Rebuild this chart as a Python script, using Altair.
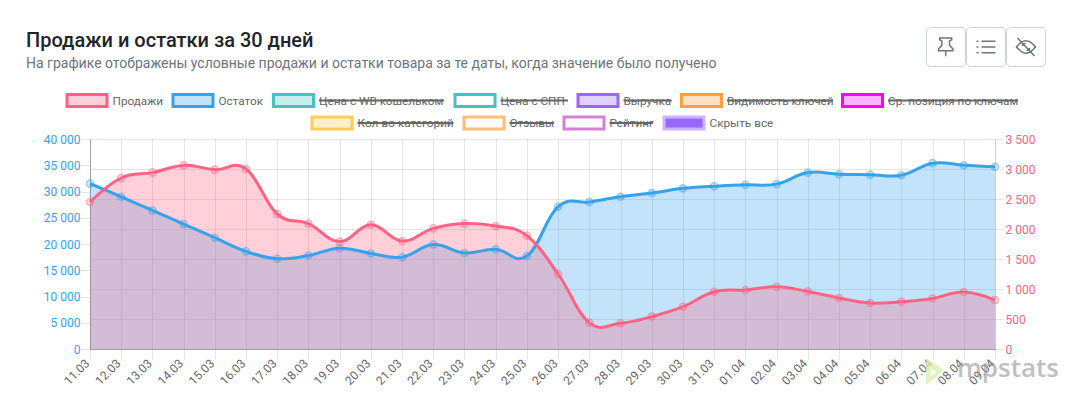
import altair as alt
import pandas as pd

dates = ["11.03","12.03","13.03","14.03","15.03","16.03","17.03","18.03","19.03","20.03",
         "21.03","22.03","23.03","24.03","25.03","26.03","27.03","28.03","29.03","30.03",
         "31.03","01.04","02.04","03.04","04.04","05.04","06.04","07.04","08.04","09.04"]
stock = [31500,29000,26400,23800,21200,18600,17200,17800,19200,18200,
         17500,19900,18300,19000,17700,27100,28000,29000,29700,30600,
         31000,31300,31400,33600,33300,33200,33100,35400,35000,34700]
sales = [2450,2850,2940,3060,2990,3000,2250,2090,1790,2070,
         1800,2010,2090,2050,1890,1250,440,430,540,705,
         955,983,1038,960,850,766,788,843,950,816]

legend_names = ["Продажи","Остаток","Цена с WB кошельком","Цена с СПП","Выручка","Видимость ключей",
                "Ср. позиция по ключам","Кол-во категорий","Отзывы","Рейтинг","Скрыть все"]
legend_stroke = ["#ff6384","#36a2eb","#4bc0c0","#4bc0c0","#9966ff","#ff9f40","#ff00ff",
                 "#ffcd56","#ffbd7a","#d67fd6","#ccb3ff"]
legend_fill = ["rgba(255,99,132,0.3)","rgba(54,162,235,0.3)","rgba(75,192,192,0.3)","#ffffff",
               "rgba(153,102,255,0.3)","rgba(255,159,64,0.3)","rgba(255,0,255,0.3)",
               "rgba(255,205,86,0.3)","#ffffff","#ffffff","#9966ff"]
legend_struck = [False,False,True,True,True,True,True,True,True,True,False]

OX, OY = 90, 139   # plot origin on the page
PW, PH = 905, 210

legend_left = [65.5,171.5,272,453.5,576.5,680,841,310.5,462.5,562.5,662.5]
legend_end = [162,263,444,568,671.7,832.8,1018,453.5,554,653,773]
legend_row = [100.5]*7 + [123]*4

df = pd.DataFrame({"date": dates, "stock": stock, "sales": sales})
leg = pd.DataFrame({
    "name": legend_names, "stroke": legend_stroke, "fill": legend_fill, "struck": legend_struck,
    "x0": [v + 1.5 - OX for v in legend_left],
    "x1": [v + 41.5 - OX for v in legend_left],
    "y0": [v - 6 - OY for v in legend_row],
    "y1": [v + 6 - OY for v in legend_row],
    "yc": [v - OY for v in legend_row],
    "tx": [v + 47 - OX for v in legend_left],
    "te": [v - OX for v in legend_end],
})

FONT = "Roboto"
num_expr = "replace(format(datum.value, ','), /,/g, ' ')"
x_enc = alt.X("date:N", sort=dates,
              scale=alt.Scale(type="point", padding=0),
              axis=alt.Axis(title=None, grid=True, gridColor="rgba(0,0,0,0.1)", labelAngle=-45,
                            labelAlign="right", labelBaseline="middle", labelPadding=2, labelOffset=-3,
                            labelFont=FONT, labelFontSize=12, labelColor="#666666",
                            tickColor="rgba(0,0,0,0.1)", tickSize=10,
                            domainColor="rgba(0,0,0,0.3)", labelOverlap=False))
LEFT_SCALE = alt.Scale(domain=[0, 40000], nice=False)
RIGHT_SCALE = alt.Scale(domain=[0, 3500], nice=False)
y_left = alt.Y("stock:Q", scale=LEFT_SCALE,
               axis=alt.Axis(title=None, orient="left", grid=False, values=list(range(0, 40001, 5000)),
                             labelExpr=num_expr, labelFont=FONT, labelFontSize=12, labelColor="#36a2eb",
                             tickColor="rgba(0,0,0,0.1)", tickSize=10, labelPadding=0,
                             domainColor="rgba(0,0,0,0.3)"))
y_right = alt.Y("sales:Q", scale=RIGHT_SCALE,
                axis=alt.Axis(title=None, orient="right", grid=True, gridColor="rgba(0,0,0,0.1)",
                              values=list(range(0, 3501, 500)),
                              labelExpr=num_expr, labelFont=FONT, labelFontSize=12, labelColor="#ff6384",
                              tickColor="rgba(0,0,0,0.1)", tickSize=8, labelPadding=2,
                              domainColor="rgba(0,0,0,0.1)"))
y_left_plain = alt.Y("stock:Q", scale=LEFT_SCALE, axis=None)
y_right_plain = alt.Y("sales:Q", scale=RIGHT_SCALE, axis=None)

curve = dict(interpolate="cardinal", tension=-0.2)

base = alt.Chart(df)
series = [
    base.mark_area(color="#36a2eb", opacity=0.3, **curve).encode(x=x_enc, y=y_left),
    base.mark_area(color="#ff6384", opacity=0.3, **curve).encode(x=x_enc, y=y_right),
    base.mark_line(color="#36a2eb", strokeWidth=3, **curve).encode(x=x_enc, y=y_left_plain),
    base.mark_point(filled=False, fill="rgba(54,162,235,0.3)", stroke="rgba(54,162,235,0.7)", size=50, strokeWidth=1.5).encode(x=x_enc, y=y_left_plain),
    base.mark_line(color="#ff6384", strokeWidth=3, **curve).encode(x=x_enc, y=y_right_plain),
    base.mark_point(filled=False, fill="rgba(255,99,132,0.3)", stroke="rgba(255,99,132,0.7)", size=50, strokeWidth=1.5).encode(x=x_enc, y=y_right_plain),
]

def px(field):
    return alt.X(field, scale=None, axis=None)
def py(field):
    return alt.Y(field, scale=None, axis=None)

lb = alt.Chart(leg)
legend_layers = [
    lb.mark_rect(strokeWidth=3).encode(
        x=px("x0:Q"), x2=alt.X2("x1:Q"), y=py("y0:Q"), y2=alt.Y2("y1:Q"),
        fill=alt.Fill("fill:N", scale=None), stroke=alt.Stroke("stroke:N", scale=None)),
    lb.mark_text(align="left", baseline="middle", font=FONT, fontSize=11.75, color="#666666").encode(
        x=px("tx:Q"), y=py("yc:Q"), text="name:N"),
    lb.transform_filter("datum.struck").mark_rule(color="#666666", strokeWidth=2).encode(
        x=px("tx:Q"), x2=alt.X2("te:Q"), y=py("yc:Q")),
]

def label(text, x, y, **kw):
    return alt.Chart(pd.DataFrame({"t": [text]})).mark_text(align="left", baseline="middle", **kw).encode(
        x=alt.value(x - OX), y=alt.value(y - OY), text="t:N")

def box(x0, x1, y0, y1, **kw):
    return alt.Chart(pd.DataFrame({"a": [0]})).mark_rect(**kw).encode(
        x=alt.value(x0 - OX), x2=alt.value(x1 - OX), y=alt.value(y0 - OY), y2=alt.value(y1 - OY))

def icon(path, x, y, size, **kw):
    return alt.Chart(pd.DataFrame({"a": [0]})).mark_point(shape=path, size=size, **kw).encode(
        x=alt.value(x - OX), y=alt.value(y - OY))

PIN = "M-.6 -.9 L.6 -.9 L.6 -.72 L.38 -.6 L.38 -.2 L.72 .2 L.72 .38 L-.72 .38 L-.72 .2 L-.38 -.2 L-.38 -.6 L-.6 -.72 Z M0 .38 L0 .92"
LIST = "M-.45 -.57 L.95 -.57 M-.45 0 L.95 0 M-.45 .57 L.95 .57 M-.95 -.57 L-.75 -.57 M-.95 0 L-.75 0 M-.95 .57 L-.75 .57"
EYE = "M-.95 0 Q-.45 -.62 0 -.62 Q.45 -.62 .95 0 Q.45 .62 0 .62 Q-.45 .62 -.95 0 Z M-.35 -.1 Q-.35 -.35 -.05 -.35 M.35 .1 Q.35 .35 .05 .35 M-.85 -.9 L.85 .9"
LOGO = "M-.67 -1 L.67 -.1 L-.67 1 Z M-.32 -.25 L-.32 .35 L.12 .05 Z"

chrome = [
    label("Продажи и остатки за 30 дней", 26, 41, font=FONT, fontSize=20, fontWeight=500, color="#212529"),
    label("На графике отображены условные продажи и остатки товара за те даты, когда значение было получено",
          26, 64, font=FONT, fontSize=14, color="#6c757d"),
]
for x0, x1 in [(926.5, 965.5), (966.5, 1005.5), (1006.5, 1045.5)]:
    chrome.append(box(x0, x1, 27.5, 66.5, fill="#ffffff", stroke="#ced4da", strokeWidth=1, cornerRadius=4))
stroke_icon = dict(filled=False, stroke="#6c757d", strokeWidth=1.5, opacity=1)
chrome += [
    icon(PIN, 945.7, 47, 400, **stroke_icon),
    icon(LIST, 986, 47, 400, **stroke_icon),
    icon(EYE, 1026, 47, 400, **stroke_icon),
    icon(LOGO, 935, 371.5, 729, filled=True, fill="#d6ecae", fillOpacity=0.75, strokeWidth=0),
    label("mpstats", 957, 369, font="Open Sans", fontSize=26, fontWeight=600, color="#9e9e9e", opacity=0.65),
]

chart = alt.layer(*series, *legend_layers, *chrome).resolve_scale(y="independent").properties(
    width=PW, height=PH,
    padding={"left": OX - 8, "top": OY - 8, "right": 1055 - (OX - 8) - PW, "bottom": 379 - (OY - 8) - PH},
    autosize=alt.AutoSizeParams(type="none"),
    background="#ffffff",
).configure_view(stroke=None)

chart.save("out.html", embed_options={"renderer": "svg", "actions": False})
